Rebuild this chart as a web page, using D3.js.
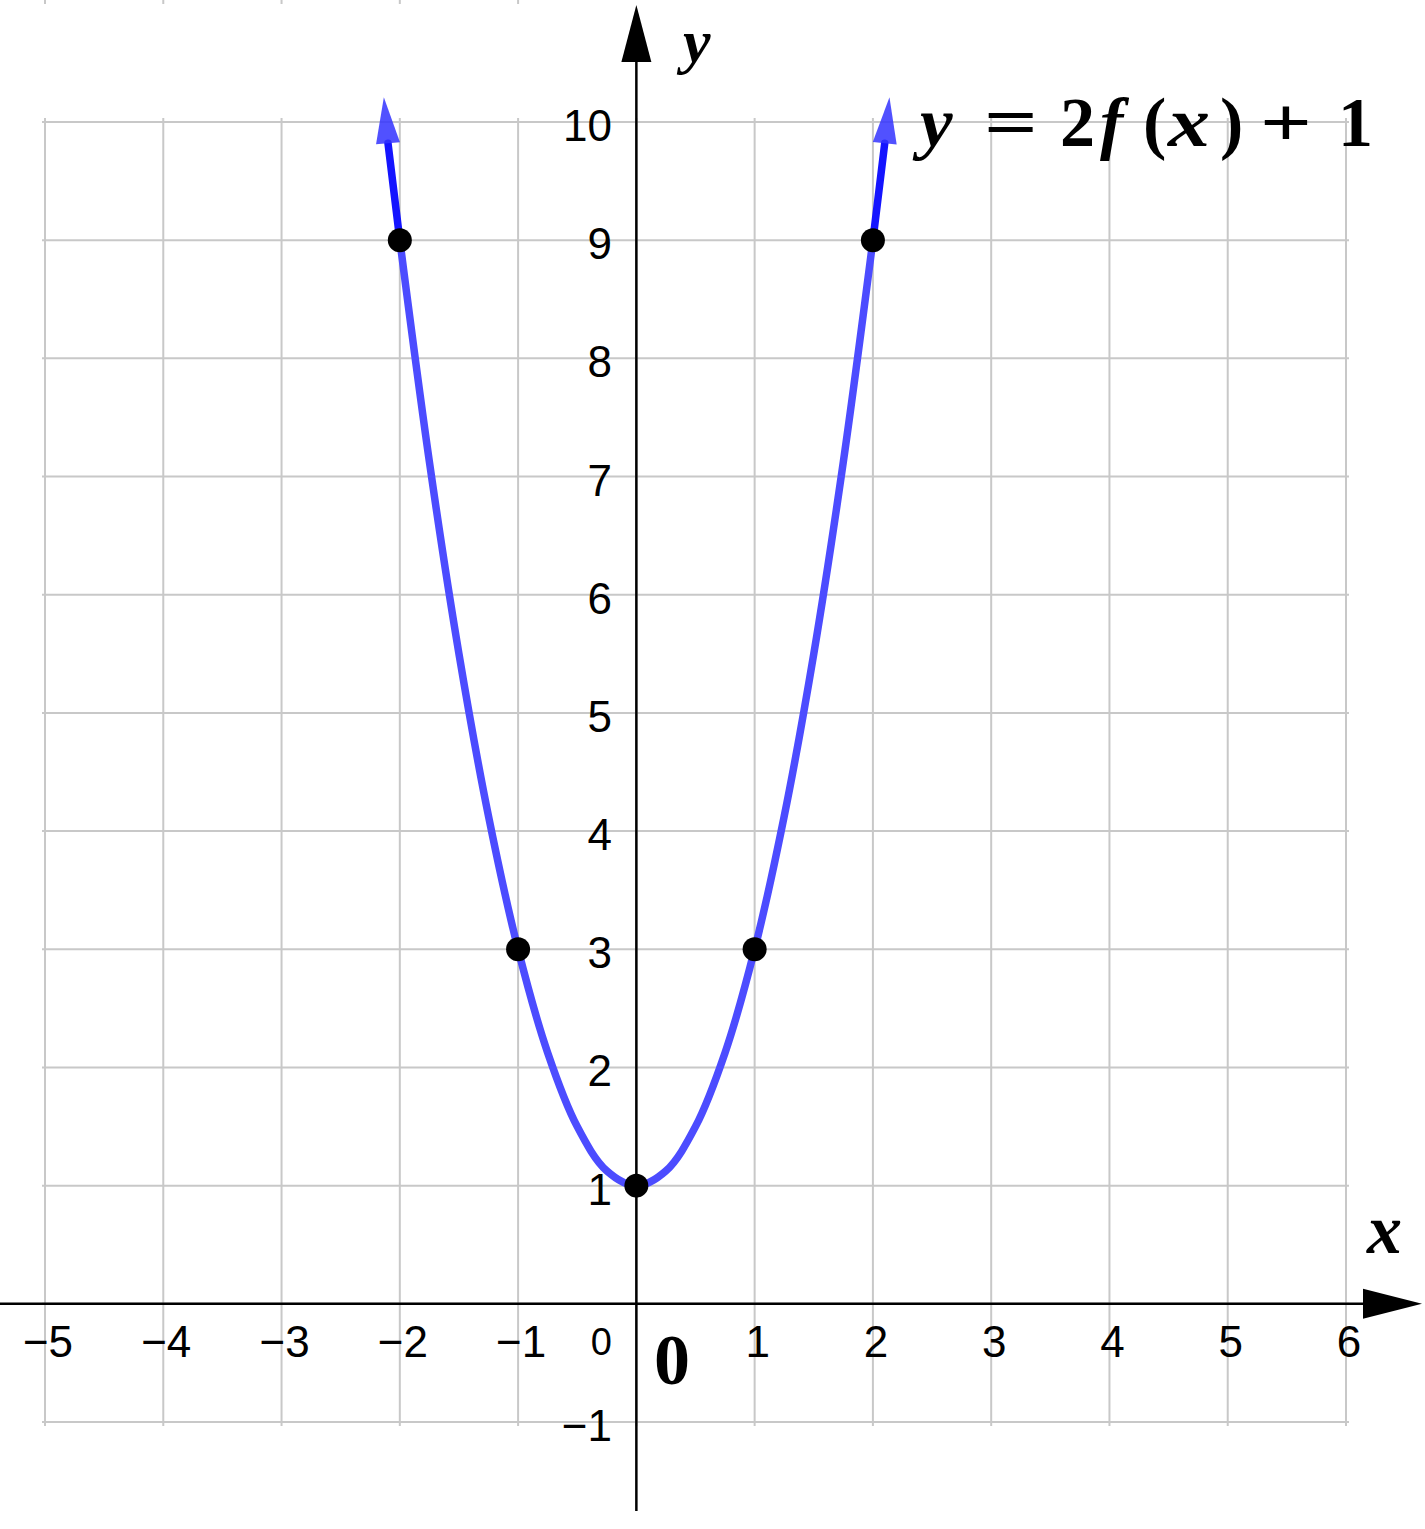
<!DOCTYPE html>
<html>
<head>
<meta charset="utf-8">
<script src="https://cdn.jsdelivr.net/npm/d3@7"></script>
<style>
  html, body { margin: 0; padding: 0; background: #fff; }
  svg { display: block; }
</style>
</head>
<body>
<script>
// ---- data ----
const xTicks = [-5, -4, -3, -2, -1, 1, 2, 3, 4, 5, 6];
const yTicks = [-1, 1, 2, 3, 4, 5, 6, 7, 8, 9, 10];
const gridX = [-5, -4, -3, -2, -1, 0, 1, 2, 3, 4, 5, 6];
const gridY = [-1, 0, 1, 2, 3, 4, 5, 6, 7, 8, 9, 10];
const topStubX = [-5, -4, -3, -2, -1];
// curve samples (x, y)
const curveX = [-2, -1.75, -1.5, -1.25, -1, -0.75, -0.5, -0.25, 0, 0.25, 0.5, 0.75, 1, 1.25, 1.5, 1.75, 2];
const curveY = [9, 7.125, 5.5, 4.125, 3, 2.125, 1.5, 1.125, 1, 1.125, 1.5, 2.125, 3, 4.125, 5.5, 7.125, 9];
// end segments leading to arrowheads
const endStartX = [-2, 2];
const endStartY = [9, 9];
const endBaseX = [-2.1, 2.1];
const endBaseY = [9.82, 9.82];
const endTipX = [-2.135, 2.14];
const endTipY = [10.21, 10.21];
// marked points
const ptX = [-2, -1, 0, 1, 2];
const ptY = [9, 3, 1, 3, 9];
// equation label pieces
const eqText = ["y", "=", "2", "f", "(", "x", ")", "+", "1"];
const eqItalic = [true, false, false, true, false, true, false, false, false];

const W = 1425, H = 1529;
const svg = d3.select("body").append("svg").attr("width", W).attr("height", H);

const x = d3.scaleLinear().domain([-5, 6]).range([45, 1346]);
const y = d3.scaleLinear().domain([-1, 10]).range([1422, 122]);

// grid
const grid = svg.append("g").attr("stroke", "#c8c8c8").attr("stroke-width", 2);
grid.selectAll("line.v").data(gridX).join("line")
  .attr("x1", d => x(d)).attr("x2", d => x(d))
  .attr("y1", y(10) - 4).attr("y2", y(-1) + 4);
grid.selectAll("line.h").data(gridY).join("line")
  .attr("y1", d => y(d)).attr("y2", d => y(d))
  .attr("x1", x(-5) - 3).attr("x2", x(6) + 3);
grid.selectAll("line.t").data(topStubX).join("line")
  .attr("x1", d => x(d)).attr("x2", d => x(d))
  .attr("y1", 0).attr("y2", 4);

// axes
const ax = svg.append("g");
ax.append("line").attr("x1", 0).attr("x2", 1365).attr("y1", y(0)).attr("y2", y(0))
  .attr("stroke", "#000").attr("stroke-width", 2.5);
ax.append("path").attr("d", `M${1422},${y(0)} L${1363},${y(0) - 15} L${1363},${y(0) + 15} Z`).attr("fill", "#000");
ax.append("line").attr("x1", x(0)).attr("x2", x(0)).attr("y1", 1511).attr("y2", 60)
  .attr("stroke", "#000").attr("stroke-width", 2.5);
ax.append("path").attr("d", `M${x(0)},5 L${x(0) - 15},62 L${x(0) + 15},62 Z`).attr("fill", "#000");

// tick labels
const lab = svg.append("g").attr("font-family", "'Liberation Sans', Arial, sans-serif").attr("fill", "#000");
lab.selectAll("text.x").data(xTicks).join("text")
  .attr("x", d => x(d) + 3).attr("y", y(0) + 53)
  .attr("text-anchor", "middle").attr("font-size", 44)
  .text(d => d < 0 ? "\u2212" + Math.abs(d) : d);
lab.selectAll("text.y").data(yTicks).join("text")
  .attr("x", 612).attr("y", d => y(d) + 19)
  .attr("text-anchor", "end").attr("font-size", 44)
  .text(d => d < 0 ? "\u2212" + Math.abs(d) : d);
lab.append("text").attr("x", 612).attr("y", y(0) + 51).attr("text-anchor", "end")
  .attr("font-size", 38).text("0");

// origin label
const serif = "'Liberation Serif', 'Times New Roman', serif";
svg.append("text").attr("x", 654).attr("y", 1384)
  .attr("font-family", serif)
  .attr("font-weight", "bold").attr("font-size", 72).text("0");

// axis names
svg.append("text").attr("x", 683).attr("y", 62).attr("font-family", serif)
  .attr("font-style", "italic").attr("font-weight", "bold").attr("font-size", 62).text("y");
svg.append("text").attr("x", 1367).attr("y", 1253).attr("font-family", serif)
  .attr("font-style", "italic").attr("font-weight", "bold").attr("font-size", 70).text("x");

// curve
const pts = curveX.map((d, i) => [x(d), y(curveY[i])]);
svg.append("path").attr("d", d3.line().curve(d3.curveCatmullRom.alpha(0.5))(pts))
  .attr("fill", "none").attr("stroke", "#4c4cff").attr("stroke-width", 7.5)
  .attr("stroke-linecap", "round");

// end segments + arrowheads
endStartX.forEach((sx, i) => {
  const x0 = x(sx), y0 = y(endStartY[i]);
  const xb = x(endBaseX[i]), yb = y(endBaseY[i]);
  const xt = x(endTipX[i]), yt = y(endTipY[i]);
  svg.append("line").attr("x1", x0).attr("y1", y0).attr("x2", xb).attr("y2", yb)
    .attr("stroke", "#1414ff").attr("stroke-width", 7.5).attr("stroke-linecap", "round");
  const dx = xt - xb, dy = yt - yb, L = Math.hypot(dx, dy);
  const nx = -dy / L * 12, ny = dx / L * 12;
  svg.append("path").attr("d", `M${xt},${yt} L${xb + nx},${yb + ny} L${xb - nx},${yb - ny} Z`)
    .attr("fill", "#3333ff").attr("fill-opacity", 0.85);
});

// points
svg.append("g").selectAll("circle").data(ptX).join("circle")
  .attr("cx", d => x(d)).attr("cy", (d, i) => y(ptY[i])).attr("r", 12).attr("fill", "#000");

// equation label, glyph by glyph
const eqLeft = [920, 984, 1060, 1100, 1143, 1168, 1220, 1260, 1338];
const eqScaleX = [1.05, 1.35, 1, 1, 1, 1.2, 1, 1.3, 1];
svg.append("g").selectAll("text").data(eqText).join("text")
  .attr("transform", (d, i) => `translate(${eqLeft[i]},146) scale(${eqScaleX[i]},1)`)
  .attr("font-family", serif).attr("font-weight", "bold").attr("font-size", 70)
  .attr("font-style", (d, i) => eqItalic[i] ? "italic" : "normal")
  .text(d => d);
</script>
</body>
</html>
